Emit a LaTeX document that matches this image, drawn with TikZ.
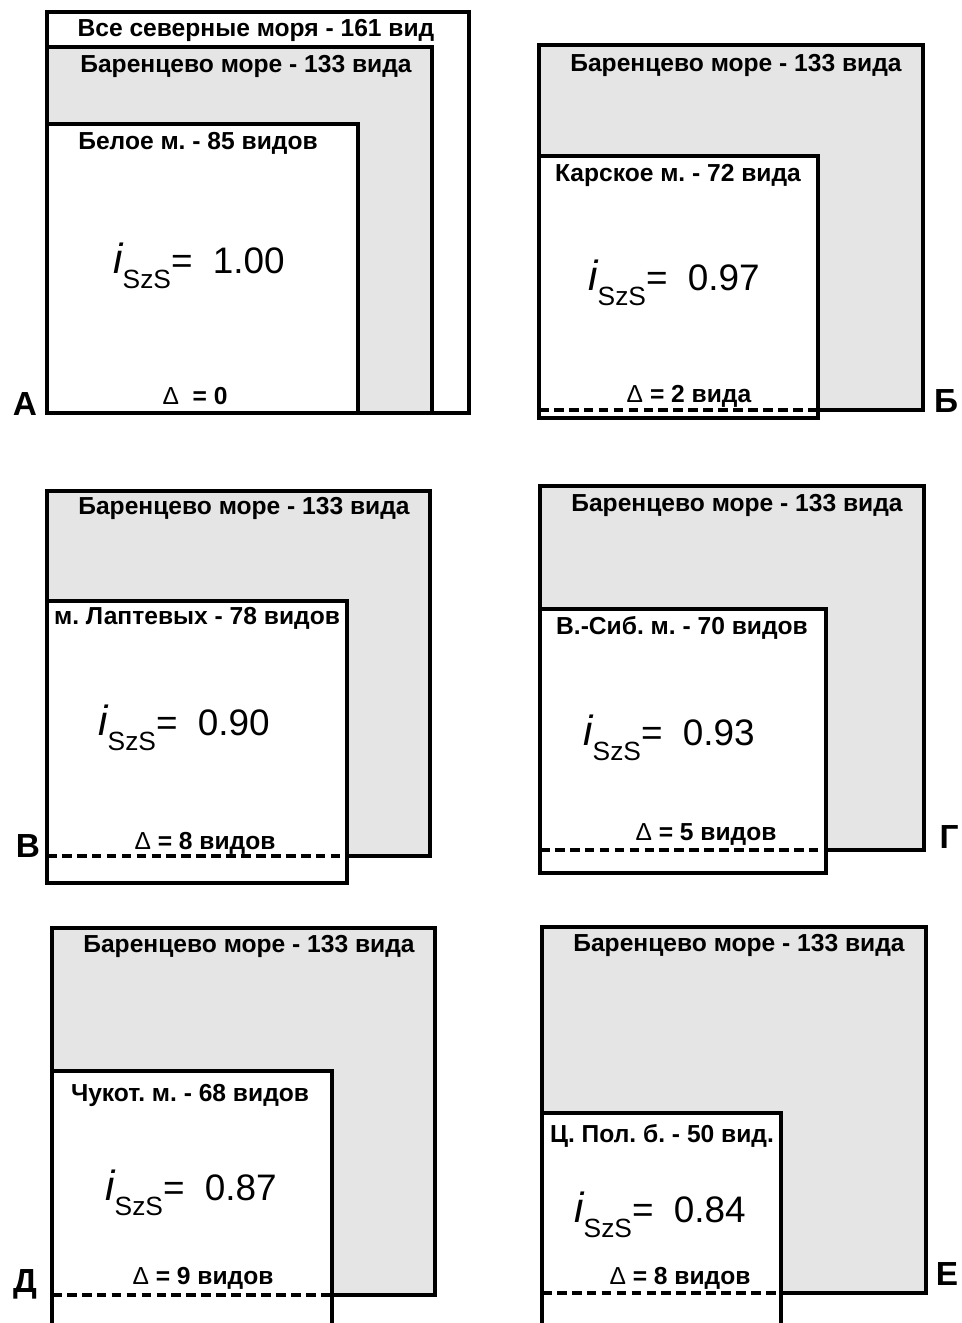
\documentclass[tikz,border=0pt]{standalone}
\usepackage{fontspec}
\setmainfont{Liberation Sans}
\usepackage{tikz}
\usetikzlibrary{positioning}
\frenchspacing

\newcommand{\iszs}[1]{{\fontsize{24}{26}\selectfont\itshape i}\raisebox{-0.42em}{\fontsize{15}{16}\selectfont SzS}=\hspace{0.55em}#1}
\newcommand{\dlt}{{\mdseries Δ}}

\begin{document}
\begin{tikzpicture}[x=0.02cm, y=-0.02cm,
    sea/.style={draw, line width=2.2pt, fill=white},
    barents/.style={sea, fill=black!10},
    gapline/.style={line width=1.8pt, dash pattern=on 5.5pt off 3pt},
    ttl/.style={font=\fontsize{14}{16}\bfseries\selectfont, inner sep=0, anchor=base},
    idx/.style={font=\fontsize{21}{24}\selectfont, inner sep=0, anchor=base west},
    lbl/.style={font=\fontsize{19}{20}\bfseries\selectfont, inner sep=0, anchor=base},
]
    \useasboundingbox (0,0) rectangle (961,1323);

    % А
    \draw[sea] (47,12) rectangle (469,413);
    \draw[barents] (47,47) rectangle (432,413);
    \draw[sea] (47,124) rectangle (358,413);
    \node[ttl] (allA) at (256,36) {Все северные моря - 161 вид};
    \node[ttl] (barA) at (246,72) {Баренцево море - 133 вида};
    \node[ttl] (white) at (198,149) {Белое м. - 85 видов};
    \node[idx] (iA) at (113,273) {\iszs{1.00}};
    \node[ttl] (dA) at (195,404) {\dlt\ \ = 0};
    \node[lbl] (lA) at (25,415) {А};

    % Б
    \draw[barents] (539,45) rectangle (923,410);
    \draw[sea] (539,156) rectangle (818,418);
    \draw[gapline] (539,410) -- (818,410);
    \node[ttl] (barB) at (736,71) {Баренцево море - 133 вида};
    \node[ttl] (kara) at (678,181) {Карское м. - 72 вида};
    \node[idx] (iB) at (588,290) {\iszs{0.97}};
    \node[ttl] (dB) at (689,402) {\dlt\ = 2 вида};
    \node[lbl] (lB) at (946,412) {Б};

    % В
    \draw[barents] (47,491) rectangle (430,856);
    \draw[sea] (47,601) rectangle (347,883);
    \draw[gapline] (47,856) -- (347,856);
    \node[ttl] (barV) at (244,514) {Баренцево море - 133 вида};
    \node[ttl] (lapt) at (197,624) {м. Лаптевых - 78 видов};
    \node[idx] (iV) at (98,735) {\iszs{0.90}};
    \node[ttl] (dV) at (205,849) {\dlt\ = 8 видов};
    \node[lbl] (lV) at (28,857) {В};

    % Г
    \draw[barents] (540,486) rectangle (924,850);
    \draw[sea] (540,609) rectangle (826,873);
    \draw[gapline] (540,850) -- (826,850);
    \node[ttl] (barG) at (737,511) {Баренцево море - 133 вида};
    \node[ttl] (vsib) at (682,634) {В.-Сиб. м. - 70 видов};
    \node[idx] (iG) at (583,745) {\iszs{0.93}};
    \node[ttl] (dG) at (706,840) {\dlt\ = 5 видов};
    \node[lbl] (lG) at (949,848) {Г};

    % Д
    \draw[barents] (52,928) rectangle (435,1295);
    \draw[sea] (52,1071) rectangle (332,1340);
    \draw[gapline] (52,1295) -- (332,1295);
    \node[ttl] (barD) at (249,952) {Баренцево море - 133 вида};
    \node[ttl] (chuk) at (190,1101) {Чукот. м. - 68 видов};
    \node[idx] (iD) at (105,1200) {\iszs{0.87}};
    \node[ttl] (dD) at (203,1284) {\dlt\ = 9 видов};
    \node[lbl] (lD) at (25,1292) {Д};

    % Е
    \draw[barents] (542,927) rectangle (926,1293);
    \draw[sea] (542,1113) rectangle (781,1340);
    \draw[gapline] (542,1293) -- (781,1293);
    \node[ttl] (barE) at (739,951) {Баренцево море - 133 вида};
    \node[ttl] (cpol) at (662,1142) {Ц. Пол. б. - 50 вид.};
    \node[idx] (iE) at (574,1222) {\iszs{0.84}};
    \node[ttl] (dE) at (680,1284) {\dlt\ = 8 видов};
    \node[lbl] (lE) at (947,1285) {Е};
\end{tikzpicture}
\end{document}
